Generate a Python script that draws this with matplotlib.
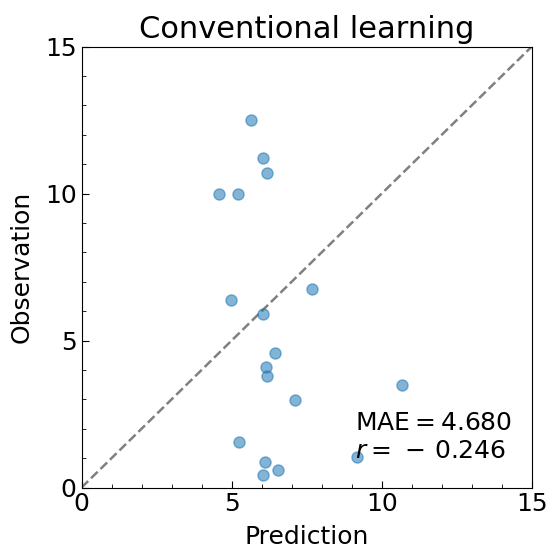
import numpy as np
import matplotlib.pyplot as plt
from matplotlib.ticker import MultipleLocator

# predicted vs observed values
prediction = [5.63, 6.04, 6.19, 4.59, 5.20, 4.97, 7.67, 6.04, 6.43, 6.14,
              6.19, 7.12, 10.69, 5.23, 6.12, 6.53, 6.04, 9.17]
observation = [12.50, 11.20, 10.71, 9.99, 9.99, 6.38, 6.75, 5.91, 4.57, 4.09,
               3.79, 2.99, 3.48, 1.54, 0.88, 0.59, 0.44, 1.05]
mae = 4.680
r_val = -0.246
lims = [0, 15]

fig = plt.figure(figsize=(5.53, 5.49), dpi=100)
ax = fig.add_axes([0.1475, 0.112, 0.814, 0.803])

ax.plot(lims, lims, '--', color='gray', lw=1.8, zorder=1)
ax.scatter(prediction, observation, s=64, color='tab:blue', alpha=0.55, zorder=2)

ax.set_xlim(lims)
ax.set_ylim(lims)
ax.xaxis.set_major_locator(MultipleLocator(5))
ax.yaxis.set_major_locator(MultipleLocator(5))
ax.xaxis.set_minor_locator(MultipleLocator(1))
ax.yaxis.set_minor_locator(MultipleLocator(1))
ax.tick_params(which='both', direction='in', labelsize=18)
ax.tick_params(which='major', length=5)
ax.tick_params(which='minor', length=3)

ax.set_xlabel('Prediction', fontsize=18, labelpad=6)
ax.set_ylabel('Observation', fontsize=18, labelpad=8)
ax.set_title('Conventional learning', fontsize=22, pad=6)

sign = '-' if r_val < 0 else ''
ax.text(0.608, 0.055,
        '$\\mathrm{MAE} = %.3f$\n$r = \\,%s\\,%.3f$' % (mae, sign, abs(r_val)),
        transform=ax.transAxes, fontsize=18, ha='left', va='bottom')

fig.savefig('out.png', dpi=100)
